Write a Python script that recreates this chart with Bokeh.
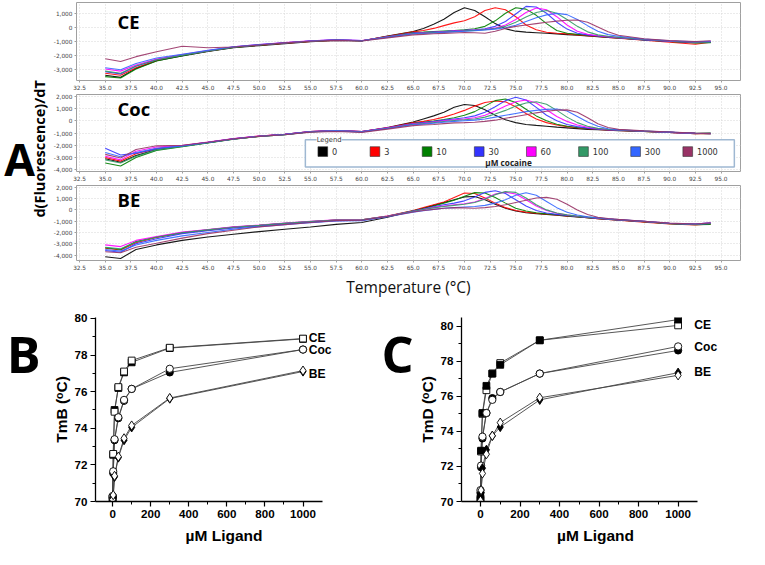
import math
from bokeh.plotting import figure
from bokeh.layouts import row, column
from bokeh.models import Range1d, FixedTicker, NumeralTickFormatter, Label
from bokeh.embed import file_html
from bokeh.resources import INLINE

S = 0.97


def px(v):
    return int(round(v * S))


# ---------------- data: melt curves (panel A) ----------------
temps = [35, 36.5, 38, 40, 42.5, 45, 47.5, 50, 52.5, 55, 57.5, 60, 62.5,
         65, 66, 67, 68, 69, 70, 71, 72, 73, 74, 75, 76, 77, 78, 79, 80,
         81, 82, 83, 84, 85, 87.5, 90, 92.5, 94]
conc_labels = ["0", "3", "10", "30", "60", "100", "300", "1000"]
conc_colors = ["#000000", "#ff0000", "#008000", "#3333ff", "#ff00ff",
               "#339966", "#3366ff", "#993366"]
x_ticks_a = [32.5, 35.0, 37.5, 40.0, 42.5, 45.0, 47.5, 50.0, 52.5, 55.0, 57.5,
             60.0, 62.5, 65.0, 67.5, 70.0, 72.5, 75.0, 77.5, 80.0, 82.5, 85.0,
             87.5, 90.0, 92.5, 95.0]
y_ticks_ce = [-3000, -2000, -1000, 0, 1000]
y_ticks_coc = [-4000, -3000, -2000, -1000, 0, 1000, 2000]
y_ticks_be = [-4000, -3000, -2000, -1000, 0, 1000, 2000]

ce_0 = [-3450, -3600, -2950, -2400, -2050, -1720, -1450, -1300, -1160, -1020, -930, -960, -600,
        -280, -50, 250, 620, 1100, 1450, 1250, 800, 300, -80, -250, -320, -360, -400, -450, -500,
        -550, -600, -650, -700, -750, -870, -1000, -1080, -1050]
ce_3 = [-3300, -3450, -2900, -2380, -2000, -1700, -1420, -1270, -1130, -990, -900, -950, -620,
        -300, -200, -50, 150, 350, 500, 800, 1250, 1450, 1300, 800, 200, -150, -330, -400, -450,
        -520, -580, -640, -700, -760, -900, -1050, -1200, -1050]
ce_10 = [-3550, -3650, -3000, -2420, -2030, -1710, -1430, -1260, -1110, -970, -890, -950, -640,
         -350, -320, -280, -240, -200, -150, -80, 100, 500, 1050, 1450, 1350, 900, 300, -200, -400,
         -480, -550, -620, -680, -740, -880, -1000, -1100, -1080]
ce_30 = [-3200, -3350, -2800, -2330, -1980, -1680, -1400, -1240, -1100, -960, -860, -940, -650,
         -380, -350, -310, -270, -230, -190, -150, -80, 100, 450, 1000, 1550, 1500, 1050, 400, -100,
         -400, -520, -600, -670, -730, -880, -980, -1050, -1030]
ce_60 = [-3000, -3150, -2700, -2280, -1950, -1660, -1390, -1220, -1080, -950, -870, -930, -660,
         -400, -370, -330, -290, -250, -210, -170, -120, -30, 200, 600, 1100, 1430, 1300, 800, 200,
         -250, -480, -580, -650, -720, -860, -970, -1050, -1000]
ce_100 = [-3150, -3300, -2780, -2320, -1990, -1690, -1410, -1250, -1110, -980, -900, -950, -680,
          -420, -390, -350, -310, -270, -230, -190, -140, -60, 100, 400, 780, 1100, 1250, 1050, 600,
          100, -300, -520, -620, -700, -850, -960, -1050, -1050]
ce_300 = [-2900, -3050, -2600, -2200, -1920, -1640, -1380, -1230, -1090, -960, -890, -950, -700,
          -450, -420, -380, -340, -300, -260, -220, -170, -100, 0, 180, 450, 720, 930, 1040, 950,
          600, 150, -250, -500, -620, -820, -950, -1020, -980]
ce_1000 = [-2250, -2450, -2100, -1750, -1350, -1450, -1400, -1250, -1100, -980, -920, -960, -740,
           -520, -480, -440, -410, -380, -350, -370, -400, -250, -50, 100, 200, 300, 400, 480, 540,
           560, 400, 50, -300, -550, -800, -930, -1000, -950]

coc_0 = [-3100, -3400, -2850, -2350, -2080, -1790, -1490, -1270, -1110, -890, -800, -880, -560,
         -100, 150, 400, 700, 1100, 1330, 1250, 900, 450, 80, -150, -300, -380, -450, -520, -580,
         -640, -700, -740, -780, -810, -880, -950, -1050, -1000]
coc_3 = [-3000, -3300, -2700, -2280, -2050, -1760, -1470, -1250, -1100, -880, -800, -880, -570,
         -150, -50, 100, 300, 550, 850, 1200, 1500, 1620, 1550, 1150, 600, 150, -150, -350, -480,
         -570, -640, -700, -750, -790, -870, -950, -1050, -1050]
coc_10 = [-3450, -3700, -3000, -2420, -2120, -1810, -1500, -1280, -1130, -900, -830, -900, -600,
          -200, -120, -20, 100, 250, 450, 750, 1200, 1650, 1780, 1500, 950, 400, 0, -280, -450,
          -550, -630, -690, -740, -780, -870, -950, -1030, -1050]
coc_30 = [-2250, -2800, -2650, -2300, -2070, -1780, -1480, -1260, -1110, -890, -810, -890, -590,
          -220, -150, -60, 50, 150, 250, 400, 700, 1150, 1650, 1930, 1700, 1100, 450, 0, -300,
          -480, -600, -680, -730, -770, -860, -940, -1020, -1050]
coc_60 = [-2900, -3200, -2500, -2150, -2020, -1750, -1460, -1250, -1100, -880, -800, -880, -580,
          -250, -180, -100, 0, 80, 150, 250, 450, 800, 1200, 1550, 1700, 1450, 900, 350, -50,
          -350, -530, -650, -720, -760, -860, -950, -1030, -1040]
coc_100 = [-3200, -3450, -2900, -2380, -2100, -1800, -1500, -1280, -1130, -910, -830, -910, -620,
           -280, -220, -150, -60, 20, 80, 150, 300, 550, 850, 1200, 1450, 1560, 1350, 850, 300,
           -150, -450, -620, -700, -750, -850, -940, -1020, -1030]
coc_300 = [-2600, -2950, -2600, -2250, -2050, -1770, -1480, -1260, -1120, -900, -830, -910, -630,
           -320, -270, -200, -120, -50, 0, 50, 150, 300, 450, 600, 750, 850, 930, 960, 800,
           350, -100, -450, -650, -730, -840, -930, -1020, -1040]
coc_1000 = [-2750, -3050, -2350, -2050, -2000, -1760, -1480, -1280, -1140, -930, -880, -950, -680,
            -400, -350, -300, -230, -170, -150, -120, -50, 50, 200, 350, 500, 650, 780, 870, 890,
            700, 250, -250, -550, -700, -830, -920, -1010, -1050]

be_0 = [-4150, -4300, -3500, -3100, -2700, -2400, -2150, -1920, -1720, -1520, -1280, -1120, -650,
        -100, 150, 400, 650, 900, 1150, 1180, 900, 500, 150, -100, -250, -330, -400, -470, -550,
        -620, -700, -780, -850, -900, -1050, -1200, -1280, -1200]
be_3 = [-3400, -3550, -2900, -2450, -2050, -1800, -1550, -1380, -1200, -1050, -900, -880, -550,
        -50, 200, 450, 700, 1100, 1500, 1450, 1050, 600, 200, -50, -200, -300, -380, -450, -530,
        -610, -690, -770, -850, -920, -1080, -1250, -1330, -1250]
be_10 = [-3350, -3500, -2800, -2400, -2000, -1760, -1520, -1360, -1180, -1040, -890, -880, -560,
         -80, 120, 350, 600, 850, 1200, 1530, 1500, 1100, 600, 150, -100, -250, -350, -430, -510,
         -600, -680, -760, -830, -900, -1050, -1220, -1300, -1280]
be_30 = [-3600, -3750, -3000, -2550, -2100, -1850, -1600, -1420, -1250, -1100, -950, -920, -580,
         -100, 80, 280, 450, 600, 800, 1150, 1550, 1700, 1450, 900, 350, -50, -280, -400, -490,
         -580, -660, -740, -820, -880, -1030, -1200, -1280, -1200]
be_60 = [-3100, -3250, -2700, -2350, -1950, -1730, -1500, -1340, -1160, -1020, -880, -870, -550,
         -120, 50, 220, 350, 450, 550, 700, 1000, 1400, 1570, 1400, 900, 350, -50, -300, -450,
         -560, -650, -730, -800, -870, -1020, -1180, -1260, -1150]
be_100 = [-3300, -3450, -2850, -2420, -2020, -1770, -1530, -1370, -1190, -1040, -890, -880, -560,
          -130, 30, 180, 300, 400, 500, 650, 950, 1350, 1620, 1550, 1050, 450, 0, -280, -440,
          -550, -640, -720, -800, -870, -1020, -1200, -1280, -1200]
be_300 = [-3500, -3650, -3100, -2700, -2300, -2000, -1700, -1480, -1300, -1130, -980, -950, -600,
          -200, -80, 50, 150, 200, 250, 300, 400, 600, 900, 1300, 1520, 1300, 750, 200, -200,
          -450, -600, -700, -780, -850, -1000, -1180, -1250, -1150]
be_1000 = [-3700, -3800, -3300, -2950, -2500, -2100, -1800, -1500, -1300, -1120, -950, -920, -580,
           -180, -50, 50, 150, 200, 180, 150, 200, 300, 450, 650, 850, 1050, 1110, 950, 500,
           0, -400, -650, -760, -840, -1000, -1170, -1250, -1150]

# ---------------- data: Tm vs ligand (panels B, C) ----------------
ligand_conc = [0, 3, 10, 30, 60, 100, 300, 1000]
x_ticks_bc = [0, 200, 400, 600, 800, 1000]
x_minor_bc = [100, 300, 500, 700, 900]
y_ticks_bc = [70, 72, 74, 76, 78, 80]
y_minor_bc = [71, 73, 75, 77, 79]

tmb_ce_open = [70.2, 72.6, 74.9, 76.25, 77.1, 77.7, 78.4, 78.9]
tmb_ce_fill = [70.15, 72.55, 75.0, 76.2, 77.05, 77.6, 78.38, 78.88]
tmb_coc_open = [70.3, 71.65, 73.4, 74.6, 75.55, 76.15, 77.25, 78.3]
tmb_coc_fill = [70.2, 71.55, 73.35, 74.55, 75.5, 76.15, 77.05, 78.3]
tmb_be_open = [70.1, 70.35, 71.4, 72.45, 73.45, 74.15, 75.65, 77.15]
tmb_be_fill = [70.05, 70.25, 71.35, 72.4, 73.35, 74.05, 75.62, 77.1]

tmd_ce_open = [70.1, 72.85, 75.0, 76.35, 77.3, 77.9, 79.2, 80.05]
tmd_ce_fill = [70.2, 72.9, 75.05, 76.6, 77.3, 77.8, 79.2, 80.38]
tmd_coc_open = [70.65, 72.05, 73.7, 75.05, 75.8, 76.25, 77.3, 78.85]
tmd_coc_fill = [70.5, 71.95, 73.6, 75.05, 75.9, 76.25, 77.3, 78.62]
tmd_be_open = [70.05, 70.65, 71.6, 72.7, 73.75, 74.5, 75.92, 77.2]
tmd_be_fill = [70.2, 70.5, 71.9, 72.95, 73.75, 74.25, 75.8, 77.35]

ce_curves = [ce_0, ce_3, ce_10, ce_30, ce_60, ce_100, ce_300, ce_1000]
coc_curves = [coc_0, coc_3, coc_10, coc_30, coc_60, coc_100, coc_300, coc_1000]
be_curves = [be_0, be_3, be_10, be_30, be_60, be_100, be_300, be_1000]

SIDE_W = px(52)
A_W = px(765) - SIDE_W
OPEN = "Open Sans"


def blank_fig(width, height, xr, yr):
    p = figure(width=width, height=height, x_range=Range1d(*xr), y_range=Range1d(*yr),
               output_backend="svg", toolbar_location=None, min_border=0)
    p.axis.visible = False
    p.grid.visible = False
    p.outline_line_color = None
    return p


def melt_fig(curves, yr, yticks, height, b_top, b_bottom, name, name_y, xlabel=None):
    p = figure(width=A_W, height=px(height),
               x_range=Range1d(32.2, 96.9), y_range=Range1d(*yr),
               output_backend="svg", toolbar_location=None,
               min_border_left=px(25), min_border_right=px(2),
               min_border_top=px(b_top), min_border_bottom=px(b_bottom))
    p.outline_line_color = "#a0a0a0"
    p.outline_line_width = 1
    p.grid.grid_line_color = "#d6d6d6"
    p.grid.grid_line_dash = "1 2"
    p.xaxis.ticker = FixedTicker(ticks=x_ticks_a)
    p.xaxis.formatter = NumeralTickFormatter(format="0.0")
    p.yaxis.ticker = FixedTicker(ticks=yticks)
    p.yaxis.formatter = NumeralTickFormatter(format="0,0")
    for ax in p.axis:
        ax.axis_line_color = None
        ax.major_tick_line_color = "#a0a0a0"
        ax.major_tick_out = 2
        ax.major_tick_in = 0
        ax.minor_tick_line_color = None
        ax.major_label_text_font = "DejaVu Sans"
        ax.major_label_text_font_size = f"{6.0 * S:.1f}px"
        ax.major_label_text_color = "#444444"
        ax.major_label_standoff = 2
    if xlabel:
        p.xaxis.axis_label = xlabel
        p.xaxis.axis_label_text_font = OPEN
        p.xaxis.axis_label_text_font_style = "normal"
        p.xaxis.axis_label_text_font_size = f"{16 * S:.1f}px"
        p.xaxis.axis_label_text_color = "#111111"
        p.xaxis.axis_label_standoff = 3
    for ys, c in zip(curves, conc_colors):
        p.line(temps, ys, line_color=c, line_width=1.1, line_alpha=0.9)
    p.add_layout(Label(x=36.2, y=name_y, text=name, text_font=OPEN,
                       text_font_style="bold", text_font_size=f"{19 * S:.1f}px",
                       text_baseline="middle", text_color="black"))
    return p


a1 = melt_fig(ce_curves, (-3830, 1830), y_ticks_ce, 95, 2, 11, "CE", 417)
a2 = melt_fig(coc_curves, (-4150, 2150), y_ticks_coc, 94, 2, 7, "Coc", 1037)
a3 = melt_fig(be_curves, (-4480, 2160), y_ticks_be, 121, 2, 36, "BE", 960,
              xlabel="Temperature (°C)")

# legend box inside the Coc panel
a2.quad(left=[54.5], right=[96.3], top=[-1560], bottom=[-3780],
        fill_color="white", line_color="#9fb8d2", line_width=1.5)
leg_x = [56.2 + 5.08 * i for i in range(len(conc_labels))]
a2.scatter(leg_x, [-2520] * len(leg_x), marker="square", size=10 * S,
           fill_color=conc_colors, line_color="#333333", line_width=0.6)
for xx, lab in zip(leg_x, conc_labels):
    a2.add_layout(Label(x=xx + 0.9, y=-2520, text=lab, text_font="DejaVu Sans",
                        text_font_size=f"{8.5 * S:.1f}px", text_baseline="middle",
                        text_color="#333333"))
a2.add_layout(Label(x=55.6, y=-1560, text="Legend", text_font="DejaVu Sans",
                    text_font_size=f"{7 * S:.1f}px", text_baseline="middle",
                    text_color="#333333", background_fill_color="white"))
a2.add_layout(Label(x=74.3, y=-3400, text="µM cocaine", text_font=OPEN,
                    text_font_style="bold", text_font_size=f"{8.5 * S:.1f}px",
                    text_baseline="middle", text_align="center", text_color="#222222"))

heights_a = a1.height + a2.height + a3.height
side = blank_fig(SIDE_W, heights_a, (0, 52), (heights_a / S, 0))
side.add_layout(Label(x=20, y=163, text="A", text_font=OPEN, text_font_style="bold",
                      text_font_size=f"{46 * S:.1f}px", text_align="center",
                      text_baseline="middle", text_color="black"))
side.add_layout(Label(x=41, y=153, text="d(Fluorescence)/dT", text_font=OPEN,
                      text_font_style="bold", text_font_size=f"{15 * S:.1f}px",
                      text_align="center", text_baseline="middle", angle=math.pi / 2,
                      text_color="black"))


def tm_fig(width, borders, x_lo, y_end, ylabel, series, open_top, names):
    bl, br, bt, bb = borders
    p = figure(width=width, height=px(255), x_range=Range1d(x_lo, 1260),
               y_range=Range1d(70, y_end), output_backend="svg", toolbar_location=None,
               min_border_left=px(bl), min_border_right=px(br),
               min_border_top=px(bt), min_border_bottom=px(bb))
    p.outline_line_color = None
    p.grid.visible = False
    p.xaxis.ticker = FixedTicker(ticks=x_ticks_bc, minor_ticks=x_minor_bc)
    p.yaxis.ticker = FixedTicker(ticks=y_ticks_bc, minor_ticks=y_minor_bc)
    p.xaxis.bounds = (x_lo, 1100)
    for ax in p.axis:
        ax.axis_line_color = "black"
        ax.axis_line_width = 1.3
        ax.major_tick_out = 5
        ax.major_tick_in = 0
        ax.minor_tick_out = 3
        ax.minor_tick_in = 0
        ax.major_tick_line_width = 1.2
        ax.major_label_text_font = "Liberation Sans"
        ax.major_label_text_font_style = "bold"
        ax.major_label_text_font_size = f"{12 * S:.1f}px"
        ax.major_label_text_color = "black"
        ax.major_label_standoff = 3
        ax.axis_label_text_font = "Liberation Sans"
        ax.axis_label_text_font_style = "bold"
        ax.axis_label_text_font_size = f"{16 * S:.1f}px"
        ax.axis_label_text_color = "black"
    p.xaxis.axis_label = "µM Ligand"
    p.xaxis.axis_label_standoff = 6
    p.yaxis.axis_label = ylabel
    p.yaxis.axis_label_standoff = 2
    markers = ["square", "circle", "diamond"]
    sizes = [7, 7.5, 9.5]
    for op, fi in series:
        p.line(ligand_conc, op, line_color="#444444", line_width=0.9)
        p.line(ligand_conc, fi, line_color="#444444", line_width=0.9)
    for (op, fi), m, sz, ot in zip(series, markers, sizes, open_top):
        order = [(fi, "black"), (op, "white")] if ot else [(op, "white"), (fi, "black")]
        for ys, fc in order:
            p.scatter(ligand_conc, ys, marker=m, size=sz * S, fill_color=fc,
                      line_color="black", line_width=0.9)
    for txt, (nx, ny) in names:
        p.add_layout(Label(x=nx, y=ny, text=txt, text_font="Liberation Sans",
                           text_font_style="bold", text_font_size=f"{12.5 * S:.1f}px",
                           text_baseline="middle", text_color="black"))
    return p


def letter_fig(width, letter, lx, ly):
    p = blank_fig(width, px(255), (0, width / S), (255, 0))
    p.add_layout(Label(x=lx, y=ly, text=letter, text_font=OPEN, text_font_style="bold",
                       text_font_size=f"{52 * S:.1f}px", text_align="center",
                       text_baseline="middle", text_color="black"))
    return p


LB_W = px(48)
B_W = px(380) - LB_W
LC_W = px(428) - px(380)
C_W = px(765) - px(428)

lb = letter_fig(LB_W, "B", 24, 50)
pb = tm_fig(B_W, (97 - 48, 18, 18, 47), -90, 80.05, "TmB (ᵒC)",
            [(tmb_ce_open, tmb_ce_fill), (tmb_coc_open, tmb_coc_fill), (tmb_be_open, tmb_be_fill)],
            [True, True, True],
            [("CE", (1030, 78.95)), ("Coc", (1030, 78.3)), ("BE", (1030, 76.95))])
lc = letter_fig(LC_W, "C", 29, 50)
pc = tm_fig(C_W, (472 - 428, 13, 15, 38), -96, 80.5, "TmD (ᵒC)",
            [(tmd_ce_open, tmd_ce_fill), (tmd_coc_open, tmd_coc_fill), (tmd_be_open, tmd_be_fill)],
            [False, True, True],
            [("CE", (1082, 80.1)), ("Coc", (1082, 78.8)), ("BE", (1082, 77.4))])

layout = column(row(side, column(a1, a2, a3)), row(lb, pb, lc, pc))

open("out.html", "w").write(file_html(layout, INLINE))
